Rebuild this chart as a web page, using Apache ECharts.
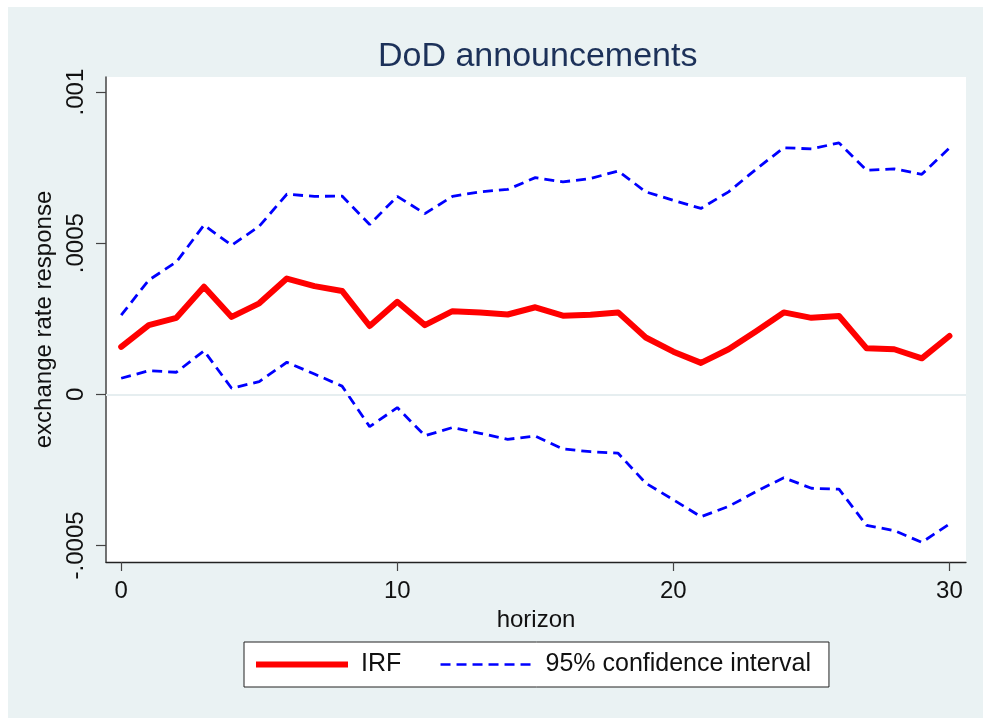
<!DOCTYPE html>
<html>
<head>
<meta charset="utf-8">
<script src="https://cdn.jsdelivr.net/npm/echarts@6/dist/echarts.min.js"></script>
<style>
  html, body { margin: 0; padding: 0; background: #fff; }
  #chart { width: 983px; height: 718px; }
</style>
</head>
<body>
<div id="chart"></div>
<script>
// horizon steps
const horizon = [0,1,2,3,4,5,6,7,8,9,10,11,12,13,14,15,16,17,18,19,20,21,22,23,24,25,26,27,28,29,30];
// impulse response
const irf = [0.000157,0.000229,0.000253,0.000356,0.000256,0.000301,0.000383,0.000358,0.000342,0.000226,
  0.000306,0.000229,0.000275,0.000271,0.000264,0.000288,0.000260,0.000263,0.000271,0.000188,
  0.000141,0.000104,0.000149,0.000209,0.000271,0.000253,0.000259,0.000152,0.000149,0.000119,0.000193];
// 95% band
const upper = [0.000262,0.000378,0.000438,0.000560,0.000493,0.000556,0.000662,0.000655,0.000656,0.000562,
  0.000655,0.000598,0.000655,0.000670,0.000678,0.000717,0.000703,0.000714,0.000739,0.000670,
  0.000642,0.000615,0.000670,0.000745,0.000816,0.000812,0.000832,0.000741,0.000746,0.000728,0.000815];
const lower = [0.000053,0.000078,0.000073,0.000144,0.000020,0.000042,0.000106,0.000067,0.000027,-0.000107,
  -0.000044,-0.000137,-0.000110,-0.000129,-0.000149,-0.000138,-0.000181,-0.000190,-0.000195,-0.000294,
  -0.000349,-0.000405,-0.000371,-0.000322,-0.000276,-0.000311,-0.000314,-0.000434,-0.000451,-0.000490,-0.000429];
// axis ticks
const xTicks = [0, 10, 20, 30];
const yTicks = [-0.0005, 0, 0.0005, 0.001];
const yTickLabels = ['-.0005', '0', '.0005', '.001'];

const font = "'Liberation Sans', Arial, sans-serif";
const ciName = '95% confidence interval';

function pairs(arr) {
    return horizon.map(function (h, i) { return [h, arr[i]]; });
}

let myChart = echarts.init(document.getElementById('chart'));
let option = {
    backgroundColor: '#fff',
    animation: false,
    graphic: [{
        type: 'rect',
        z: -10,
        shape: { x: 8, y: 7, width: 975, height: 711 },
        style: { fill: '#eaf2f3' }
    }],
    title: {
        text: 'DoD announcements',
        left: 373,
        top: 35,
        textStyle: { fontFamily: font, fontSize: 34, fontWeight: 'normal', color: '#1c3159' }
    },
    legend: {
        left: 244,
        top: 642,
        padding: [10, 18, 10, 9],
        itemGap: 38,
        itemWidth: 92,
        itemHeight: 14,
        backgroundColor: '#fff',
        borderColor: '#222',
        borderWidth: 1,
        borderRadius: 0,
        itemStyle: { color: 'transparent', borderWidth: 0, opacity: 0 },
        textStyle: { fontFamily: font, fontSize: 25, color: '#111', padding: [0, 0, 0, 8] },
        data: [
            { name: 'IRF', lineStyle: { width: 6, cap: 'butt' } },
            { name: ciName, lineStyle: { width: 2.5, type: [10, 6] } }
        ]
    },
    grid: {
        left: 106, right: 17, top: 77, bottom: 156,
        show: true, backgroundColor: '#fff', borderWidth: 0
    },
    xAxis: {
        type: 'value',
        min: -0.55,
        max: 30.6,
        name: 'horizon',
        nameLocation: 'middle',
        nameGap: 35,
        nameTextStyle: { fontFamily: font, fontSize: 24, color: '#111' },
        axisLine: { show: true, onZero: false, lineStyle: { color: '#222', width: 1.3 } },
        axisTick: { show: true, length: 9, customValues: xTicks, lineStyle: { color: '#444', width: 1.2 } },
        axisLabel: { customValues: xTicks, margin: 17, fontFamily: font, fontSize: 24, color: '#111' },
        splitLine: { show: false }
    },
    yAxis: {
        type: 'value',
        min: -0.000555,
        max: 0.00105,
        name: 'exchange rate response',
        nameLocation: 'middle',
        nameRotate: 90,
        nameGap: 32,
        nameTextStyle: { fontFamily: font, fontSize: 24, color: '#111' },
        axisLine: { show: true, onZero: false, lineStyle: { color: '#444', width: 1.5 } },
        axisTick: { show: true, length: 10, customValues: yTicks, lineStyle: { color: '#444', width: 1.2 } },
        axisLabel: {
            customValues: yTicks,
            rotate: 90,
            margin: 18,
            fontFamily: font, fontSize: 24, color: '#111',
            formatter: function (v) {
                let i = yTicks.findIndex(function (t) { return Math.abs(t - v) < 1e-9; });
                return i >= 0 ? yTickLabels[i] : '';
            }
        },
        splitLine: { show: false }
    },
    series: [
        {
            // gridlines at the y ticks
            type: 'line',
            data: [],
            silent: true,
            markLine: {
                silent: true,
                symbol: 'none',
                label: { show: false },
                lineStyle: { color: '#e6eef0', width: 2, type: 'solid' },
                data: yTicks.map(function (t) { return { yAxis: t }; })
            },
            z: 1
        },
        {
            name: ciName,
            type: 'line',
            data: pairs(upper),
            symbol: 'none',
            lineStyle: { color: '#0000ff', width: 2.8, type: [10, 6] },
            itemStyle: { color: '#0000ff' },
            z: 3
        },
        {
            name: ciName,
            type: 'line',
            data: pairs(lower),
            symbol: 'none',
            lineStyle: { color: '#0000ff', width: 2.8, type: [10, 6] },
            itemStyle: { color: '#0000ff' },
            z: 3
        },
        {
            name: 'IRF',
            type: 'line',
            data: pairs(irf),
            symbol: 'none',
            lineStyle: { color: '#ff0000', width: 6, cap: 'round', join: 'round' },
            itemStyle: { color: '#ff0000' },
            z: 4
        }
    ]
};
myChart.setOption(option);
window.addEventListener('resize', function () { myChart.resize() });
</script>
</body>
</html>
